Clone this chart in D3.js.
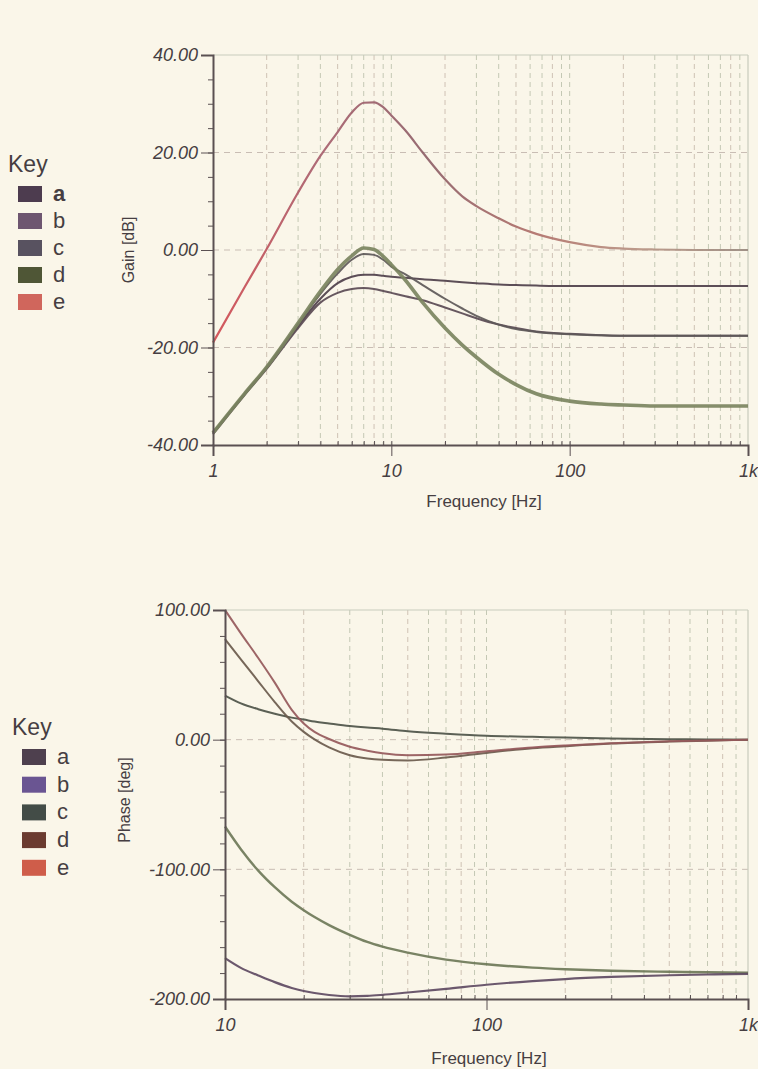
<!DOCTYPE html>
<html>
<head>
<meta charset="utf-8">
<script src="https://cdn.jsdelivr.net/npm/d3@7"></script>
<style>
  body { margin: 0; background: #faf6e9; }
  text { font-family: "Liberation Sans", Arial, sans-serif; fill: #463e42; }
</style>
</head>
<body>
<script>
// ---- data ----
const gainFreq = [1, 1.5, 2, 3, 4, 5, 6, 7, 8, 9, 10, 12, 15, 20, 25, 30, 40, 50, 65, 100, 150, 200, 300, 500, 1000]
const gainA = [-37.5, -29.6, -24.2, -15.6, -10, -6.8, -5.5, -5.1, -5.1, -5.3, -5.5, -5.7, -6, -6.3, -6.6, -6.8, -7.1, -7.2, -7.3, -7.4, -7.4, -7.4, -7.4, -7.4, -7.4]
const gainB = [-37.8, -29.8, -24.4, -16, -10.8, -8.8, -8, -7.8, -8, -8.4, -8.8, -9.5, -10.3, -11.8, -13, -14, -15.3, -16, -16.7, -17.2, -17.5, -17.6, -17.6, -17.6, -17.6]
const gainC = [-37.5, -29.5, -24, -15.2, -9, -4.8, -2, -0.8, -1, -2, -3.4, -5, -7.2, -10, -12, -13.5, -15.3, -16.2, -16.8, -17.3, -17.5, -17.6, -17.6, -17.6, -17.6]
const gainD = [-37.5, -29.5, -24, -15, -8.5, -4, -1.2, 0.4, 0.1, -1.3, -3, -6.2, -10.8, -16, -19.5, -22, -25.5, -27.6, -29.5, -31, -31.6, -31.8, -32, -32, -32]
const gainE = [-19, -7.7, 0.2, 11.8, 19.3, 24.2, 28.2, 30.2, 30.3, 29.3, 27.6, 24.5, 20, 14.5, 11, 9, 6.5, 4.8, 3.3, 1.6, 0.6, 0.3, 0.1, 0, 0]

const phaseFreq = [10, 11.5, 13.4, 15.5, 18, 20, 22, 25, 30, 35, 40, 50, 70, 100, 150, 200, 300, 500, 700, 1000]
const phaseA = [-67, -84.5, -101, -113.8, -125, -131.5, -136.8, -143, -150.5, -156, -159.6, -164.2, -169.6, -173.2, -175.8, -177, -178.2, -179, -179.4, -179.8]
const phaseB = [-168.5, -176, -181.8, -187, -191.5, -193.8, -195.4, -196.9, -197.9, -197.6, -196.8, -195, -192.2, -189, -186.2, -184.6, -183, -181.7, -181.1, -180.6]
const phaseC = [34, 28, 23.5, 20, 17, 15.5, 14, 12.5, 10.5, 9.3, 8.5, 6.5, 4.6, 3, 2.2, 1.6, 0.9, 0.4, 0.2, 0]
const phaseD = [77.6, 62, 45, 29, 14, 6, 0.2, -6, -12, -14.5, -15.5, -16, -13.8, -10.2, -6.6, -5, -3, -1.5, -0.8, 0]
const phaseE = [100, 82, 63, 44, 23, 12.5, 6, 0.5, -5.5, -8.5, -10.5, -12, -11.5, -9, -6, -4.5, -2.8, -1.3, -0.6, 0]

const keyNames = ["a", "b", "c", "d", "e"]
const gainTicks = [-40, -20, 0, 20, 40]
const phaseTicks = [-200, -100, 0, 100]
const freqLabels = {1: "1", 10: "10", 100: "100", 1000: "1k"}

// colours
const gainKeyColors = ["#4d3c4f", "#6e5670", "#585260", "#4f5636", "#d0665c"]
const phaseKeyColors = ["#4e404e", "#6a5592", "#434c47", "#6b3b30", "#cf5d4a"]
const gainLineColors = ["#4e3f4a", "#5a4a54", "#5d5858", "#7b8460", "url(#redfade)"]
const phaseLineColors = ["#6e7858", "#5e4a62", "#4d5248", "#6a5a4c", "#95585a"]

const W = 758, H = 1069
const svg = d3.select("body").append("svg").attr("width", W).attr("height", H)

const defs = svg.append("defs")
const grad = defs.append("linearGradient").attr("id", "redfade")
  .attr("gradientUnits", "userSpaceOnUse").attr("x1", 213).attr("x2", 748).attr("y1", 0).attr("y2", 0)
grad.selectAll("stop").data([[0, "#d24a50"], [0.2, "#a8606e"], [0.4, "#8e6068"], [0.6, "#b0706a"], [0.8, "#b89484"], [1, "#9a8a80"]])
  .join("stop").attr("offset", d => d[0]).attr("stop-color", d => d[1])

function minorFreqs(lo, hi) {
  const out = []
  for (let dec = lo; dec < hi; dec *= 10)
    for (let k = 1; k < 10; k++) out.push(dec * k)
  out.push(hi)
  return out
}

function panel(o) {
  const x = d3.scaleLog().domain(o.xDomain).range([o.left, o.right])
  const y = d3.scaleLinear().domain(o.yDomain).range([o.bottom, o.top])
  const g = svg.append("g")

  // grid
  const vlines = minorFreqs(o.xDomain[0], o.xDomain[1]).filter(f => f > o.xDomain[0] * 1.001 && f < o.xDomain[1] * 0.999)
  g.append("g").selectAll("line").data(vlines).join("line")
    .attr("x1", d => x(d)).attr("x2", d => x(d))
    .attr("y1", o.top).attr("y2", o.bottom)
    .attr("stroke", (d, i) => i % 3 == 0 ? "#cfc2b4" : "#c4c8b4")
    .attr("stroke-width", 1).attr("stroke-dasharray", "5,4")
  g.append("g").selectAll("line").data(o.yTicks.filter(t => t != o.yDomain[0] && t != o.yDomain[1])).join("line")
    .attr("x1", o.left).attr("x2", o.right)
    .attr("y1", d => y(d)).attr("y2", d => y(d))
    .attr("stroke", "#c9bdb4").attr("stroke-width", 1).attr("stroke-dasharray", "6,5")

  // frame top / right
  g.append("line").attr("x1", o.left).attr("x2", o.right).attr("y1", o.top).attr("y2", o.top)
    .attr("stroke", "#c8cbbd").attr("stroke-width", 1.2)
  g.append("line").attr("x1", o.right).attr("x2", o.right).attr("y1", o.top).attr("y2", o.bottom)
    .attr("stroke", "#c8cbbd").attr("stroke-width", 1.2)

  // curves
  const line = d3.line().x(d => x(d[0])).y(d => y(d[1])).curve(d3.curveMonotoneX)
  o.series.forEach((s, i) => {
    g.append("path")
      .datum(o.freq.map((f, j) => [f, s[j]]))
      .attr("fill", "none")
      .attr("stroke", o.lineColors[i])
      .attr("stroke-width", o.widths[i])
      .attr("stroke-linejoin", "round")
      .attr("stroke-opacity", 0.92)
      .attr("d", line)
  })

  // y axis
  const yAxis = g.append("g").attr("transform", `translate(${o.left},0)`)
    .call(d3.axisLeft(y).tickValues(o.yTicks).tickFormat(d => d.toFixed(2)).tickSize(12).tickPadding(3))
  yAxis.append("g").call(d3.axisLeft(y).tickValues(d3.range(o.yDomain[0], o.yDomain[1] + 0.1, o.yMinor)).tickFormat("").tickSize(5))
    .select(".domain").remove()
  yAxis.selectAll("text").attr("font-size", 18).attr("font-style", "italic").attr("fill", "#463e42")

  // x axis
  const xAxis = g.append("g").attr("transform", `translate(0,${o.bottom})`)
    .call(d3.axisBottom(x).tickValues(Object.keys(freqLabels).map(Number).filter(f => f >= o.xDomain[0])).tickFormat(d => freqLabels[d]).tickSize(11).tickPadding(8))
  xAxis.append("g").call(d3.axisTop(x).tickValues(vlines).tickFormat("").tickSize(4))
    .select(".domain").remove()
  xAxis.selectAll("text").attr("font-size", 18).attr("font-style", "italic").attr("fill", "#463e42")

  svg.selectAll(".domain, .tick line").attr("stroke", "#5a5052")
  yAxis.select(".domain").attr("stroke-width", 2)
  xAxis.select(".domain").attr("stroke-width", 2)

  // titles
  svg.append("text").attr("x", o.xTitle[0]).attr("y", o.xTitle[1])
    .attr("text-anchor", "middle").attr("font-size", 17).text("Frequency [Hz]")
  svg.append("text").attr("transform", `translate(${o.yTitle[0]},${o.yTitle[1]}) rotate(-90)`)
    .attr("text-anchor", "middle").attr("font-size", 16).text(o.yLabel)

  // key
  const k = svg.append("g").attr("transform", `translate(${o.key[0]},${o.key[1]})`)
  k.append("text").attr("x", 0).attr("y", 0).attr("font-size", 23).text("Key")
  const rows = k.selectAll("g.row").data(keyNames).join("g").attr("class", "row")
    .attr("transform", (d, i) => `translate(0,${14 + i * o.keyStep})`)
  rows.append("rect").attr("x", o.swX).attr("y", 0).attr("width", 24).attr("height", 16)
    .attr("fill", (d, i) => o.keyColors[i])
  rows.append("text").attr("x", o.swX + 35).attr("y", 15).attr("font-size", 22)
    .attr("font-weight", (d, i) => o.boldFirst && i == 0 ? "bold" : "normal").text(d => d)
}

panel({
  left: 213, right: 748, top: 55, bottom: 445,
  xDomain: [1, 1000], yDomain: [-40, 40], yTicks: gainTicks, yMinor: 5,
  freq: gainFreq, series: [gainA, gainB, gainC, gainD, gainE],
  lineColors: gainLineColors, widths: [2, 2, 2, 3.6, 2.2],
  xTitle: [484, 507], yTitle: [134, 250], yLabel: "Gain [dB]",
  key: [8, 172], swX: 10, keyStep: 27, keyColors: gainKeyColors, boldFirst: true
})

panel({
  left: 225, right: 748, top: 610, bottom: 999,
  xDomain: [10, 1000], yDomain: [-200, 100], yTicks: phaseTicks, yMinor: 20,
  freq: phaseFreq, series: [phaseA, phaseB, phaseC, phaseD, phaseE],
  lineColors: phaseLineColors, widths: [2.4, 2.2, 2, 2, 2],
  xTitle: [489, 1064], yTitle: [130, 800], yLabel: "Phase [deg]",
  key: [12, 735], swX: 10, keyStep: 27.7, keyColors: phaseKeyColors, boldFirst: false
})
</script>
</body>
</html>
